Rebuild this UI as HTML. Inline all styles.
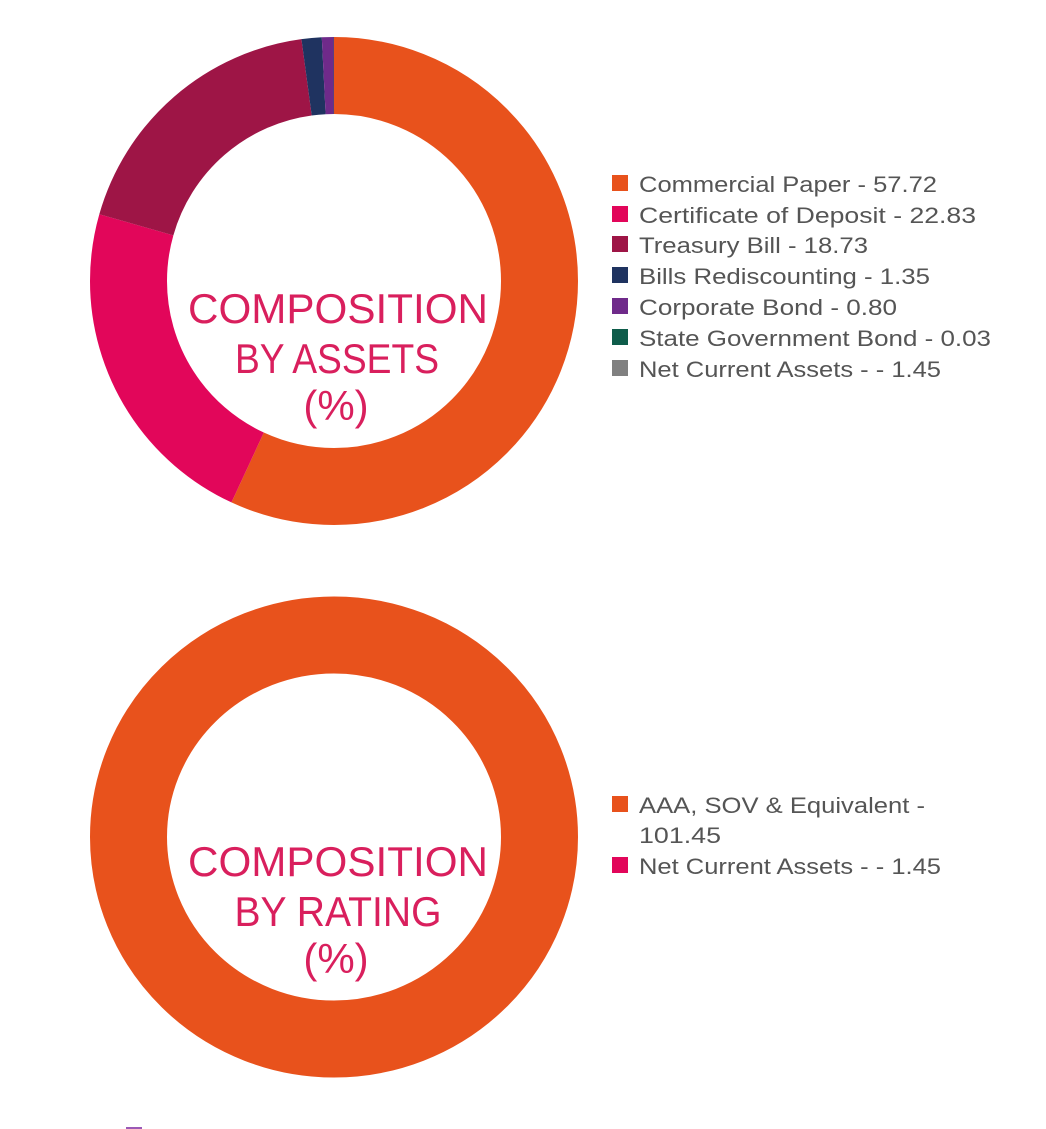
<!DOCTYPE html>
<html><head><meta charset="utf-8"><style>
html,body{margin:0;padding:0;background:#fff;}
svg{display:block;}
.t{font-family:"Liberation Sans",sans-serif;font-size:42px;fill:#d91f5d;text-anchor:middle;}
.l{font-family:"Liberation Sans",sans-serif;font-size:22px;fill:#555;}
</style></head><body>
<svg width="1046" height="1129" viewBox="0 0 1046 1129" xmlns="http://www.w3.org/2000/svg">
<g transform="rotate(-90 334 281)" fill="none" stroke-width="77">
<circle cx="334" cy="281" r="205.5" stroke="#e8521c" stroke-dasharray="734.5 2000" stroke-dashoffset="0"/>
<circle cx="334" cy="281" r="205.5" stroke="#e2065a" stroke-dasharray="290.5 2000" stroke-dashoffset="-734.5"/>
<circle cx="334" cy="281" r="205.5" stroke="#9e1546" stroke-dasharray="238.2 2000" stroke-dashoffset="-1025"/>
<circle cx="334" cy="281" r="205.5" stroke="#1f3360" stroke-dasharray="17.2 2000" stroke-dashoffset="-1263.2"/>
<circle cx="334" cy="281" r="205.5" stroke="#6f2a8a" stroke-dasharray="10.3 2000" stroke-dashoffset="-1280.4"/>
<circle cx="334" cy="281" r="205.5" stroke="#0e5c4a" stroke-dasharray="1 2000" stroke-dashoffset="-1290.5"/>
</g>
<text class="t" x="338" y="323" textLength="300" lengthAdjust="spacingAndGlyphs">COMPOSITION</text>
<text class="t" x="337" y="373" textLength="204" lengthAdjust="spacingAndGlyphs">BY ASSETS</text>
<text class="t" x="336" y="420">(%)</text>

<g class="l">
<rect x="612" y="175" width="16" height="16" fill="#e8521c"/><text class="l" x="639" y="192" textLength="298" lengthAdjust="spacingAndGlyphs">Commercial Paper - 57.72</text>
<rect x="612" y="206" width="16" height="16" fill="#e2065a"/><text class="l" x="639" y="223" textLength="337" lengthAdjust="spacingAndGlyphs">Certificate of Deposit - 22.83</text>
<rect x="612" y="236" width="16" height="16" fill="#9e1546"/><text class="l" x="639" y="253" textLength="229" lengthAdjust="spacingAndGlyphs">Treasury Bill - 18.73</text>
<rect x="612" y="267" width="16" height="16" fill="#1f3360"/><text class="l" x="639" y="284" textLength="291" lengthAdjust="spacingAndGlyphs">Bills Rediscounting - 1.35</text>
<rect x="612" y="298" width="16" height="16" fill="#6f2a8a"/><text class="l" x="639" y="315" textLength="258" lengthAdjust="spacingAndGlyphs">Corporate Bond - 0.80</text>
<rect x="612" y="329" width="16" height="16" fill="#0e5c4a"/><text class="l" x="639" y="346" textLength="352" lengthAdjust="spacingAndGlyphs">State Government Bond - 0.03</text>
<rect x="612" y="360" width="16" height="16" fill="#808080"/><text class="l" x="639" y="377" textLength="302" lengthAdjust="spacingAndGlyphs">Net Current Assets - - 1.45</text>
</g>

<ellipse cx="334" cy="837" rx="205.5" ry="202" fill="none" stroke="#e8521c" stroke-width="77"/>
<text class="t" x="338" y="876" textLength="300" lengthAdjust="spacingAndGlyphs">COMPOSITION</text>
<text class="t" x="338" y="926" textLength="207" lengthAdjust="spacingAndGlyphs">BY RATING</text>
<text class="t" x="336" y="973">(%)</text>

<rect x="612" y="796" width="16" height="16" fill="#e8521c"/><text class="l" x="639" y="813" textLength="286" lengthAdjust="spacingAndGlyphs">AAA, SOV &amp; Equivalent -</text>
<text class="l" x="639" y="843" textLength="82" lengthAdjust="spacingAndGlyphs">101.45</text>
<rect x="612" y="857" width="16" height="16" fill="#e2065a"/><text class="l" x="639" y="874" textLength="302" lengthAdjust="spacingAndGlyphs">Net Current Assets - - 1.45</text>

<rect x="126" y="1127" width="16" height="2" fill="#9b59b6"/>
</svg>
</body></html>
